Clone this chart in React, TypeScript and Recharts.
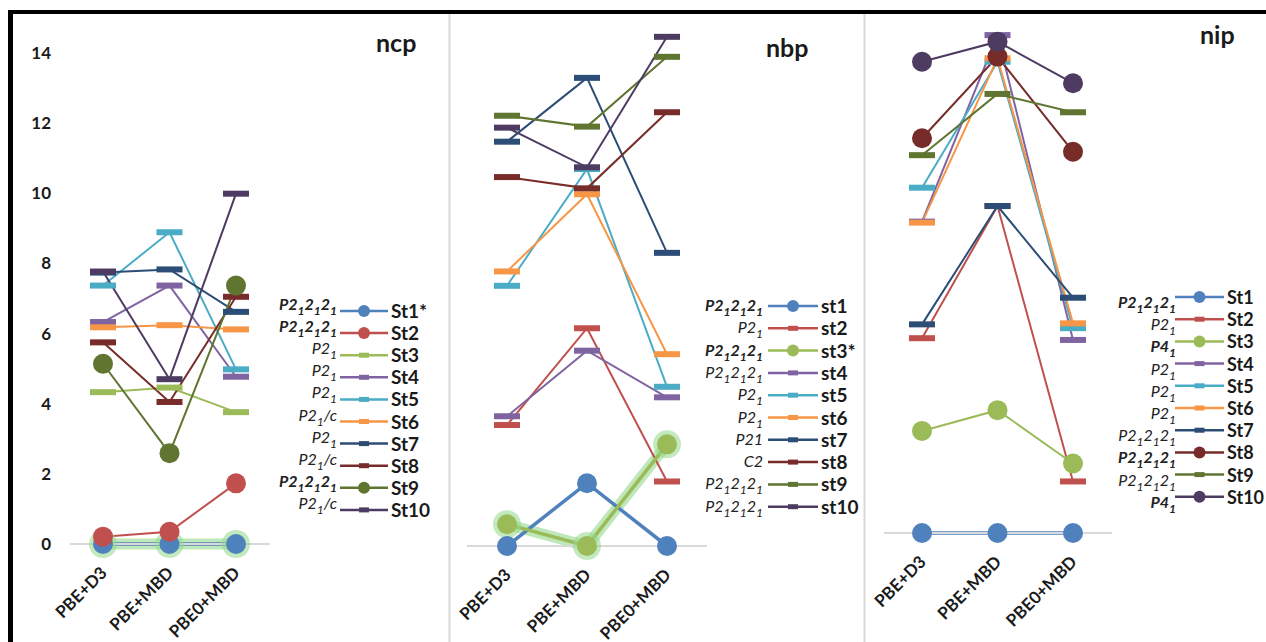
import React from "react";
import { LineChart, Line, XAxis, YAxis } from "recharts";

const methods = ["PBE+D3", "PBE+MBD", "PBE0+MBD"];
const yTicks = [0, 2, 4, 6, 8, 10, 12, 14];

const colors = [
  "#4F81BD", "#C0504D", "#9BBB59", "#8064A2", "#4BACC6",
  "#F79646", "#2C4D75", "#772C2A", "#5F7530", "#4D3B62",
];

// ncp panel
const ncpNames = ["St1*", "St2", "St3", "St4", "St5", "St6", "St7", "St8", "St9", "St10"];
const ncpGroups = [
  "P2{1}2{1}2{1}", "P2{1}2{1}2{1}", "P2{1}", "P2{1}", "P2{1}",
  "P2{1}/c", "P2{1}", "P2{1}/c", "P2{1}2{1}2{1}", "P2{1}/c",
];
const ncpCircle = [true, true, false, false, false, false, false, false, true, false];
const ncpValues = [
  [0, 0, 0],
  [0.21, 0.35, 1.73],
  [4.33, 4.46, 3.76],
  [6.33, 7.37, 4.77],
  [7.37, 8.89, 4.98],
  [6.18, 6.24, 6.12],
  [7.74, 7.83, 6.62],
  [5.75, 4.05, 7.05],
  [5.14, 2.59, 7.37],
  [7.77, 4.7, 9.99],
];

// nbp panel
const nbpNames = ["st1", "st2", "st3*", "st4", "st5", "st6", "st7", "st8", "st9", "st10"];
const nbpGroups = [
  "P2{1}2{1}2{1}", "P2{1}", "P2{1}2{1}2{1}", "P2{1}2{1}2{1}", "P2{1}",
  "P2{1}", "P21", "C2", "P2{1}2{1}2{1}", "P2{1}2{1}2{1}",
];
const nbpCircle = [true, false, true, false, false, false, false, false, false, false];
const nbpValues = [
  [0, 1.79, 0],
  [3.45, 6.21, 1.84],
  [0.62, 0, 2.9],
  [3.7, 5.57, 4.24],
  [7.42, 10.75, 4.54],
  [7.83, 10.03, 5.47],
  [11.53, 13.35, 8.36],
  [10.52, 10.2, 12.37],
  [12.27, 11.96, 13.95],
  [11.93, 10.8, 14.52],
];

// nip panel
const nipNames = ["St1", "St2", "St3", "St4", "St5", "St6", "St7", "St8", "St9", "St10"];
const nipGroups = [
  "P2{1}2{1}2{1}", "P2{1}", "P4{1}", "P2{1}", "P2{1}",
  "P2{1}", "P2{1}2{1}2{1}", "P2{1}2{1}2{1}", "P2{1}2{1}2{1}", "P4{1}",
];
const nipCircle = [true, false, true, false, false, false, false, true, false, true];
const nipValues = [
  [0, 0, 0],
  [5.63, 9.45, 1.49],
  [2.95, 3.55, 2.01],
  [9.0, 14.39, 5.58],
  [9.98, 13.62, 5.92],
  [8.97, 13.72, 6.06],
  [6.03, 9.45, 6.8],
  [11.41, 13.77, 11.02],
  [10.92, 12.69, 12.16],
  [13.62, 14.2, 13.0],
];

const FONT = "Lato, 'Open Sans', sans-serif";

function buildRows(values: number[][]) {
  return methods.map((m, i) => {
    const row: Record<string, string | number> = { method: m };
    values.forEach((v, s) => {
      row["s" + s] = v[i];
    });
    return row;
  });
}

const dashDot = (color: string) => (props: any) => {
  const { cx, cy, index } = props;
  if (cx == null || cy == null) return <g key={"d" + index} />;
  return <rect key={"d" + index} x={cx - 13} y={cy - 3} width={26} height={6} fill={color} />;
};

const XTick = (props: any) => {
  const { x, y, payload } = props;
  const ax = x + 5;
  const ay = y + 22;
  return (
    <text
      x={ax}
      y={ay}
      textAnchor="end"
      transform={`rotate(-45, ${ax}, ${ay})`}
      fontFamily={FONT}
      fontWeight={700}
      fontSize={17}
      fill="#1a1a1a"
    >
      {payload.value}
    </text>
  );
};

const YTick = (props: any) => {
  const { y, payload } = props;
  return (
    <text x={51} y={y + 6} textAnchor="end" fontFamily={FONT} fontWeight={700} fontSize={17} fill="#1a1a1a">
      {payload.value}
    </text>
  );
};

interface PanelProps {
  left: number;
  width: number;
  top: number;
  bottom: number;
  plotLeft: number;
  plotRight: number;
  padL: number;
  padR: number;
  values: number[][];
  circles: boolean[];
  glow: number;
  showY: boolean;
}

function Panel(p: PanelProps) {
  const data = buildRows(p.values);
  const yW = p.showY ? 60 : 0;
  return (
    <div style={{ position: "absolute", left: p.left, top: 0 }}>
      <LineChart
        width={p.width}
        height={642}
        data={data}
        style={{ overflow: "visible" }}
        margin={{ top: p.top, left: p.plotLeft - yW, right: p.width - p.plotRight, bottom: 642 - p.bottom - 60 }}
      >
        <XAxis
          dataKey="method"
          height={60}
          padding={{ left: p.padL, right: p.padR }}
          axisLine={{ stroke: "#D9D9D9", strokeWidth: 2 }}
          tickLine={false}
          tick={<XTick />}
          interval={0}
        />
        <YAxis
          hide={!p.showY}
          width={yW}
          domain={[0, 15]}
          ticks={yTicks}
          axisLine={false}
          tickLine={false}
          tick={<YTick />}
        />
        <Line
          key="glow"
          dataKey={"s" + p.glow}
          stroke="#92D88A"
          strokeOpacity={0.6}
          strokeWidth={11}
          dot={{ r: 14, fill: "#92D88A", fillOpacity: 0.55, strokeWidth: 0 }}
          isAnimationActive={false}
        />
        {p.values.map((_, s) => (
          <Line
            key={s}
            dataKey={"s" + s}
            stroke={colors[s]}
            strokeWidth={s === p.glow || s === 0 ? 3.5 : 2}
            dot={p.circles[s] ? { r: 10, fill: colors[s], stroke: colors[s], strokeWidth: 0 } : dashDot(colors[s])}
            isAnimationActive={false}
          />
        ))}
      </LineChart>
    </div>
  );
}

function GroupLabel({ text, x, y, bold }: { text: string; x: number; y: number; bold: boolean }) {
  const parts = text.split(/(\{\d\})/).filter(Boolean);
  let down = false;
  return (
    <text x={x} y={y} textAnchor="end" fontFamily={FONT} fontStyle="italic" fontWeight={bold ? 700 : 400} fontSize={16} fill="#222">
      {parts.map((t, i) => {
        if (t[0] === "{") {
          const dy = down ? 0 : 5;
          down = true;
          return (
            <tspan key={i} dy={dy} fontSize={12}>
              {t.slice(1, -1)}
            </tspan>
          );
        }
        const dy = down ? -5 : 0;
        down = false;
        return (
          <tspan key={i} dy={dy}>
            {t}
          </tspan>
        );
      })}
    </text>
  );
}

interface LegendProps {
  names: string[];
  groups: string[];
  circles: boolean[];
  y0: number;
  dy: number;
  gx: number;
  gdy: number;
  x1: number;
  x2: number;
  size: number;
}

function Legend(l: LegendProps) {
  return (
    <g>
      {l.names.map((n, i) => {
        const y = l.y0 + i * l.dy;
        const mx = (l.x1 + l.x2) / 2;
        return (
          <g key={n}>
            <GroupLabel text={l.groups[i]} x={l.gx} y={y + l.gdy} bold={l.circles[i]} />
            <line x1={l.x1} x2={l.x2} y1={y} y2={y} stroke={colors[i]} strokeWidth={2.5} />
            {l.circles[i] ? (
              <circle cx={mx} cy={y} r={6} fill={colors[i]} />
            ) : (
              <rect x={mx - 5} y={y - 2.5} width={10} height={5} fill={colors[i]} />
            )}
            <text x={l.x2 + 3} y={y + 7} fontFamily={FONT} fontWeight={700} fontSize={l.size} fill="#1a1a1a">
              {n}
            </text>
          </g>
        );
      })}
    </g>
  );
}

export default function App() {
  return (
    <div style={{ position: "absolute", left: 0, top: 0, width: 1266, height: 642, background: "#fff", overflow: "hidden" }}>
      <Panel left={0} width={450} top={18} bottom={544} plotLeft={70} plotRight={270} padL={33} padR={34}
        values={ncpValues} circles={ncpCircle} glow={0} showY={true} />
      <Panel left={450} width={414} top={20} bottom={546} plotLeft={17} plotRight={257} padL={40} padR={40}
        values={nbpValues} circles={nbpCircle} glow={2} showY={false} />
      <Panel left={864} width={402} top={14} bottom={533} plotLeft={20} plotRight={248} padL={38} padR={39}
        values={nipValues} circles={nipCircle} glow={-1} showY={false} />
      <svg width={1266} height={642} style={{ position: "absolute", left: 0, top: 0, pointerEvents: "none" }}>
        <line x1={449.5} x2={449.5} y1={14} y2={642} stroke="#D9D9D9" strokeWidth={2} />
        <line x1={864.5} x2={864.5} y1={14} y2={642} stroke="#D9D9D9" strokeWidth={2} />
        <rect x={8} y={10} width={1258} height={4} fill="#000" />
        <rect x={8} y={10} width={5} height={632} fill="#000" />
        <text x={376} y={52} fontFamily={FONT} fontWeight={700} fontSize={25} fill="#1a1a1a">ncp</text>
        <text x={766} y={57} fontFamily={FONT} fontWeight={700} fontSize={25} fill="#1a1a1a">nbp</text>
        <text x={1200} y={44} fontFamily={FONT} fontWeight={700} fontSize={25} fill="#1a1a1a">nip</text>
        <Legend names={ncpNames} groups={ncpGroups} circles={ncpCircle} y0={311} dy={22.1} gx={337} gdy={-1} x1={340} x2={388} size={19} />
        <Legend names={nbpNames} groups={nbpGroups} circles={nbpCircle} y0={306} dy={22.3} gx={763} gdy={5} x1={768} x2={818} size={19} />
        <Legend names={nipNames} groups={nipGroups} circles={nipCircle} y0={297} dy={22.2} gx={1176} gdy={11} x1={1175} x2={1224} size={18} />
      </svg>
    </div>
  );
}
